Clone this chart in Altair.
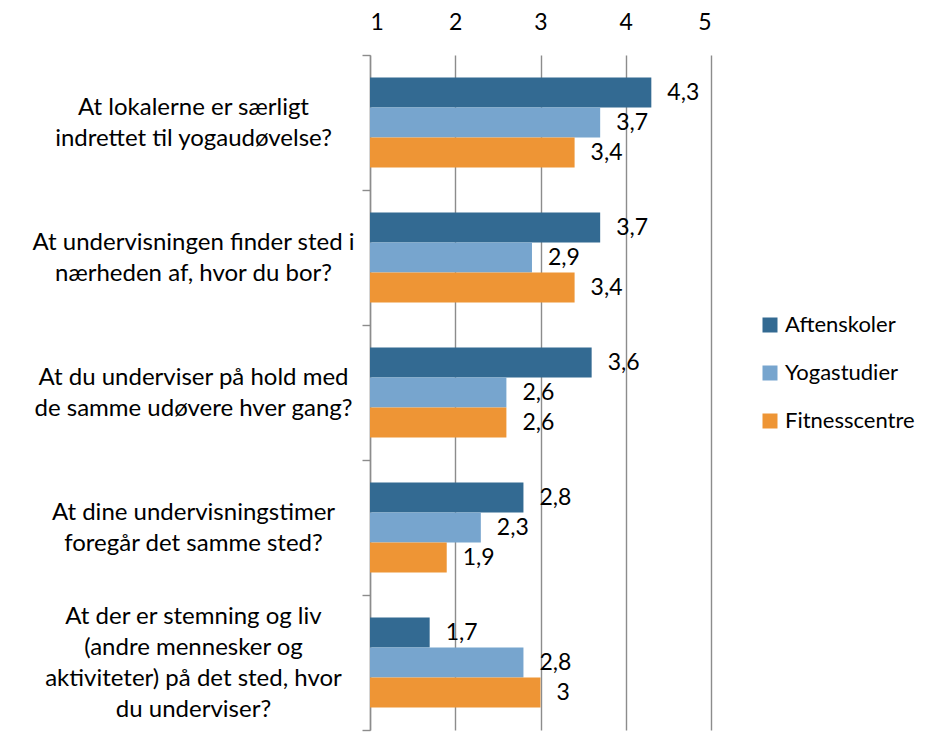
import altair as alt
import pandas as pd

questions = [
    "At lokalerne er særligt|indrettet til yogaudøvelse?",
    "At undervisningen finder sted i|nærheden af, hvor du bor?",
    "At du underviser på hold med|de samme udøvere hver gang?",
    "At dine undervisningstimer|foregår det samme sted?",
    "At der er stemning og liv|(andre mennesker og|aktiviteter) på det sted, hvor|du underviser?",
]
series = ["Aftenskoler", "Yogastudier", "Fitnesscentre"]
aftenskoler = [4.3, 3.7, 3.6, 2.8, 1.7]
yogastudier = [3.7, 2.9, 2.6, 2.3, 2.8]
fitnesscentre = [3.4, 3.4, 2.6, 1.9, 3.0]
colors = ["#336A92", "#77A5CE", "#EE9535"]
x_ticks = [1, 2, 3, 4, 5]

FONT = "Lato"
GRID = "#8c8c8c"
LH = 31

rows = []
for s, vals in zip(series, [aftenskoler, yogastudier, fitnesscentre]):
    for q, v in zip(questions, vals):
        rows.append({"q": q, "s": s, "v": v, "label": f"{v:g}".replace(".", ",")})
df = pd.DataFrame(rows)

x_scale = alt.Scale(domain=[1, 5], zero=False, nice=False)
y_scale = alt.Scale(domain=questions, paddingInner=0, paddingOuter=0)
off_scale = alt.Scale(domain=series, paddingInner=0, paddingOuter=0.75)

base = alt.Chart(df)

bars = base.mark_bar().encode(
    x=alt.X("v:Q", scale=x_scale,
            axis=alt.Axis(orient="top", values=x_ticks, title=None, ticks=False, domain=False,
                          grid=True, gridColor=GRID, gridWidth=1.4, labelFontSize=23,
                          labelFont=FONT, labelColor="black", labelPadding=21, format="d")),
    x2=alt.datum(1),
    y=alt.Y("q:N", scale=y_scale, sort=questions,
            axis=alt.Axis(title=None, labelExpr="split(datum.label, '|')", labelAlign="center",
                          labelBaseline="middle", labelPadding=169, labelLimit=0, labelFontSize=24,
                          labelFont=FONT, labelColor="black", labelLineHeight=LH, tickSize=8,
                          labelOffset={"condition": {"test": "length(split(datum.value, '|')) > 2",
                                                     "value": -1.5 * LH},
                                       "value": -0.5 * LH},
                          tickColor=GRID, tickWidth=1.4, domainColor=GRID, domainWidth=1.4,
                          tickBand="extent", labelBound=False)),
    yOffset=alt.YOffset("s:N", scale=off_scale, sort=series),
    color=alt.Color("s:N", scale=alt.Scale(domain=series, range=colors), sort=series,
                    legend=alt.Legend(title=None, orient="none", legendX=389, legendY=259,
                                      symbolType="square", symbolSize=225, symbolStrokeWidth=0,
                                      labelFontSize=22, labelFont=FONT, labelColor="black",
                                      labelLimit=0, rowPadding=26, labelOffset=4, padding=0)),
)

texts = base.mark_text(align="left", baseline="middle", dx=16, fontSize=23, font=FONT,
                       color="black").encode(
    x=alt.X("v:Q", scale=x_scale),
    y=alt.Y("q:N", scale=y_scale, sort=questions),
    yOffset=alt.YOffset("s:N", scale=off_scale, sort=series),
    text="label:N",
)

chart = alt.layer(bars, texts).properties(
    width=341, height=675,
    autosize=alt.AutoSizeParams(type="none"),
    padding={"left": 362, "top": 47, "right": 208, "bottom": 5},
).configure_view(stroke=None)

chart.save("out.html", embed_options={"renderer": "svg", "actions": False})
